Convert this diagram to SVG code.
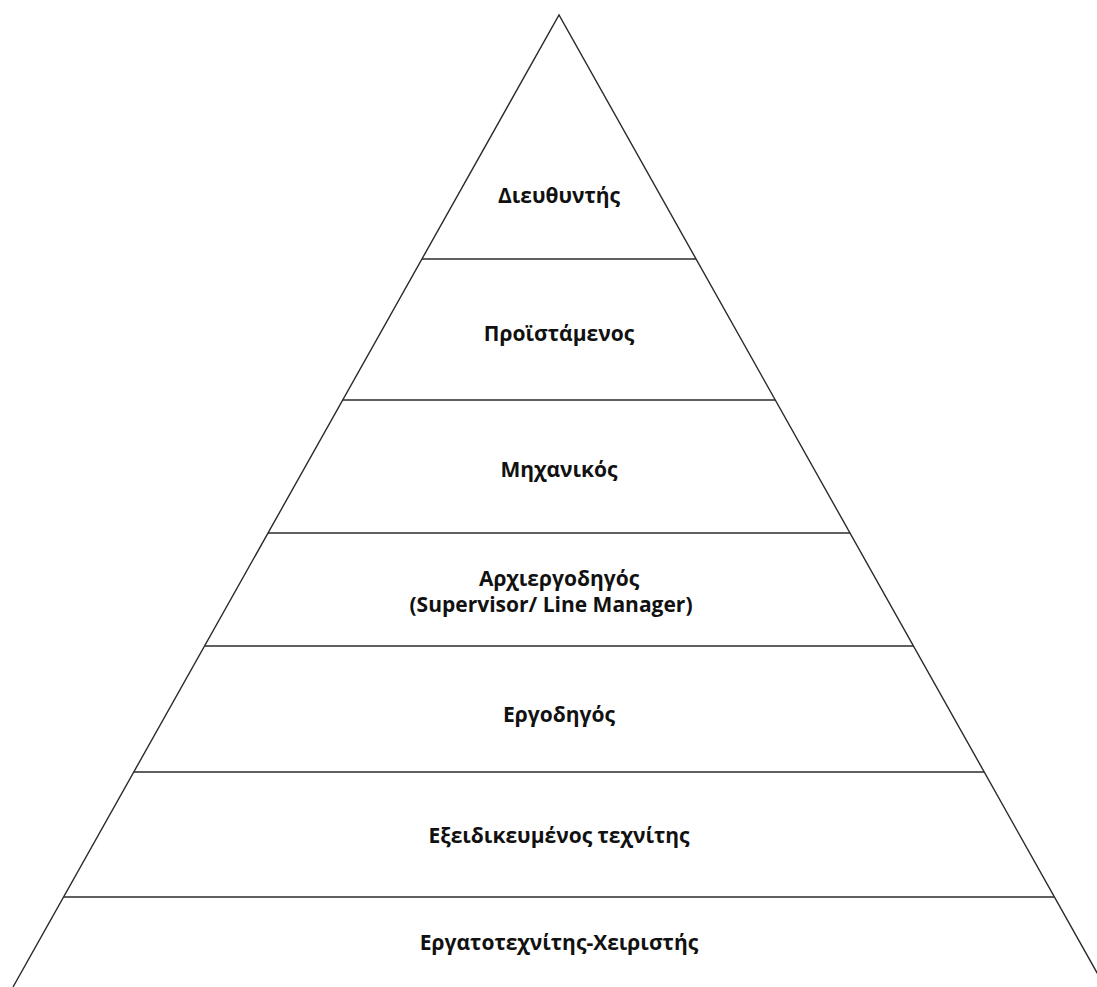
<svg xmlns="http://www.w3.org/2000/svg" width="1097" height="987" viewBox="0 0 1097 987">
  <style>
    .edge { stroke: #2b2b2b; stroke-width: 1.4; fill: none; }
    .lbl { font-family: "Open Sans", "Liberation Sans", sans-serif; font-weight: bold; font-size: 21px; fill: #111; text-anchor: middle; }
  </style>
  <rect width="1097" height="987" fill="#ffffff"/>
  <!-- pyramid outline and tier dividers -->
  <g id="connectors">
    <polyline class="edge" points="13,987 559,15 1105,987"/>
    <line class="edge" x1="422" y1="259" x2="696" y2="259"/>
    <line class="edge" x1="343" y1="400" x2="775" y2="400"/>
    <line class="edge" x1="268" y1="533" x2="850" y2="533"/>
    <line class="edge" x1="205" y1="646" x2="913" y2="646"/>
    <line class="edge" x1="134" y1="772" x2="984" y2="772"/>
    <line class="edge" x1="64" y1="897" x2="1054" y2="897"/>
  </g>
  <g id="tier1"><text class="lbl" x="559" y="203">Διευθυντής</text></g>
  <g id="tier2"><text class="lbl" x="559" y="341">Προϊστάμενος</text></g>
  <g id="tier3"><text class="lbl" x="559" y="477">Μηχανικός</text></g>
  <g id="tier4">
    <text class="lbl" x="559" y="586">Αρχιεργοδηγός</text>
    <text class="lbl" x="551" y="612">(Supervisor/ Line Manager)</text>
  </g>
  <g id="tier5"><text class="lbl" x="559" y="722">Εργοδηγός</text></g>
  <g id="tier6"><text class="lbl" x="559" y="843">Εξειδικευμένος τεχνίτης</text></g>
  <g id="tier7"><text class="lbl" x="559" y="950">Εργατοτεχνίτης-Χειριστής</text></g>
</svg>
